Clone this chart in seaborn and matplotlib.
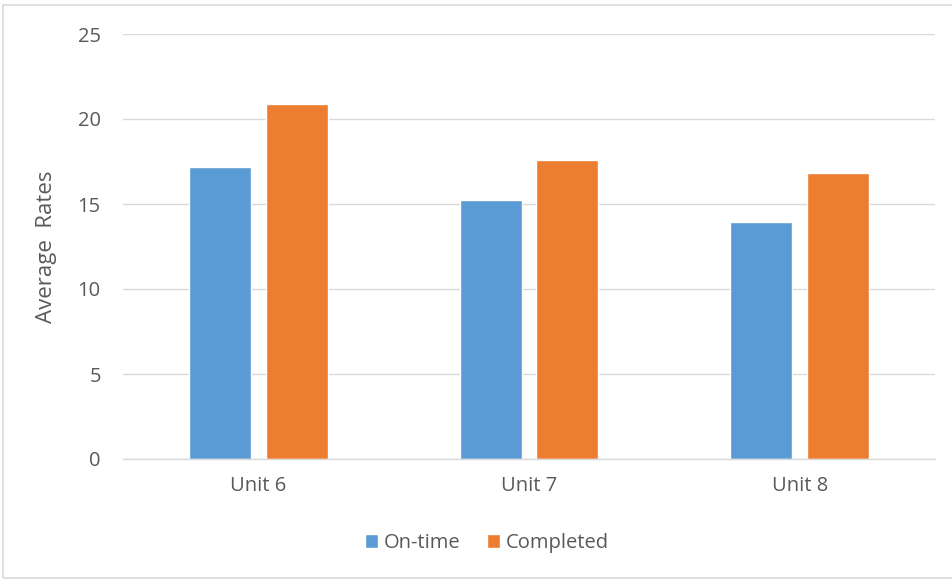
import matplotlib
matplotlib.use("Agg")
import matplotlib.pyplot as plt
import seaborn as sns
import pandas as pd
from matplotlib.patches import Rectangle

units = ["Unit 6", "Unit 7", "Unit 8"]
on_time = [17.2, 15.25, 13.95]
completed = [20.9, 17.6, 16.8]
series = ["On-time", "Completed"]
y_ticks = [0, 5, 10, 15, 20, 25]

df = pd.DataFrame({
    "Unit": units * 2,
    "Series": [series[0]] * len(units) + [series[1]] * len(units),
    "Value": on_time + completed,
})

sns.set_theme(style="white")
plt.rcParams['font.family'] = ['Open Sans', 'DejaVu Sans']
txt = "#595959"

fig = plt.figure(figsize=(9.53, 5.80), dpi=100)
ax = fig.add_axes([123/953, 1-459/580, (935-123)/953, (459-34)/580])

sns.barplot(data=df, x="Unit", y="Value", hue="Series", ax=ax,
            palette=["#5B9BD5", "#ED7D31"], width=0.567, gap=0.19,
            errorbar=None, saturation=1, legend=True)

ax.set_ylim(0, 25)
ax.set_xlim(-0.5, 2.5)
ax.set_yticks(y_ticks)
ax.set_yticklabels([str(t) for t in y_ticks])
ax.yaxis.grid(True, color="#d9d9d9", linewidth=1)
ax.set_axisbelow(True)
for s in ["top", "right", "left"]:
    ax.spines[s].set_visible(False)
ax.spines["bottom"].set_color("#d9d9d9")
ax.spines["bottom"].set_linewidth(1)
ax.tick_params(axis="y", length=0, pad=16, labelsize=14.5, labelcolor=txt)
ax.tick_params(axis="x", length=0, pad=12, labelsize=14.5, labelcolor=txt)
ax.set_xlabel("")
ax.set_ylabel("Average  Rates", fontsize=16, color=txt, labelpad=15)

handles, labels = ax.get_legend_handles_labels()
ax.get_legend().remove()
fig.legend(handles, labels, loc="center", bbox_to_anchor=(487/953, 1-543/580),
           ncol=2, frameon=False, fontsize=14.5, labelcolor=txt,
           handlelength=0.65, handleheight=0.65, handletextpad=0.25,
           columnspacing=1.35)

fig.patches.append(Rectangle((3/953, 2/580), 1.0, 1-7/580, transform=fig.transFigure,
                             fill=False, edgecolor="#d9d9d9", linewidth=1.2))

fig.savefig("out.png", dpi=100, facecolor="white")
